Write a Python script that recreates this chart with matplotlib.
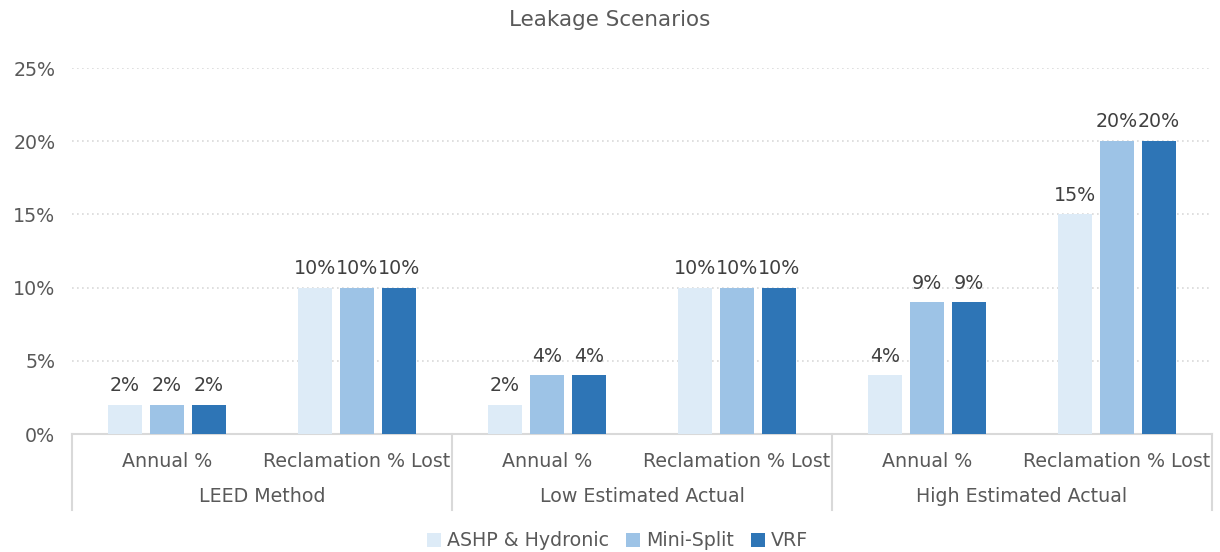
import matplotlib.pyplot as plt
import matplotlib.transforms as mtransforms
import numpy as np

# ---------- data ----------
groups = ["LEED Method", "Low Estimated Actual", "High Estimated Actual"]
metrics = ["Annual %", "Reclamation % Lost"]
series_names = ["ASHP & Hydronic", "Mini-Split", "VRF"]
ashp = [2, 10, 2, 10, 4, 15]
mini_split = [2, 10, 4, 10, 9, 20]
vrf = [2, 10, 4, 10, 9, 20]

# ---------- style ----------
colors = ["#ddebf7", "#9dc3e6", "#2e75b6"]
text_gray = "#595959"
label_gray = "#404040"
grid_gray = "#d9d9d9"
fs = 13.7
plt.rcParams["font.family"] = ["DejaVu Sans"]

fig = plt.figure(figsize=(12.2, 5.52), dpi=100)
ax = fig.add_axes([72 / 1220, 1 - 434 / 552, 1140 / 1220, 366 / 552])

n_cat = len(groups) * len(metrics)
x = np.arange(n_cat)
bar_w = 0.174
step = 0.221

for i, (name, vals) in enumerate(zip(series_names, [ashp, mini_split, vrf])):
    pos = x + (i - 1) * step
    bars = ax.bar(pos, np.array(vals) / 100, width=bar_w, color=colors[i], label=name, zorder=3)
    for b, v in zip(bars, vals):
        ax.annotate(f"{v}%", (b.get_x() + b.get_width() / 2, b.get_height()),
                    xytext=(0, 7), textcoords="offset points", ha="center", va="bottom",
                    fontsize=fs, color=label_gray)

ax.set_xlim(-0.5, n_cat - 0.5)
ax.set_ylim(0, 0.25)
ax.set_yticks(np.arange(0, 0.26, 0.05))
ax.set_yticklabels([f"{int(round(t * 100))}%" for t in np.arange(0, 0.26, 0.05)])
ax.tick_params(axis="y", length=0, pad=12, labelsize=fs, labelcolor=text_gray)
ax.grid(axis="y", linestyle=(0, (1, 2)), color=grid_gray, linewidth=1.2, zorder=0)

ax.set_xticks(x)
ax.set_xticklabels(metrics * len(groups))
ax.tick_params(axis="x", length=0, pad=13, labelsize=fs, labelcolor=text_gray)

for side in ["top", "right", "left"]:
    ax.spines[side].set_visible(False)
ax.spines["bottom"].set_color(grid_gray)
ax.spines["bottom"].set_linewidth(1.5)

# multi-level category axis
trans = mtransforms.blended_transform_factory(ax.transData, fig.transFigure)
for b in np.arange(-0.5, n_cat, len(metrics)):
    ax.plot([b, b], [1 - 434 / 552, 1 - 510 / 552], transform=trans, color=grid_gray,
            linewidth=1.5, clip_on=False)
for g, name in enumerate(groups):
    cx = g * len(metrics) + (len(metrics) - 1) / 2
    ax.text(cx, 1 - 497 / 552, name, transform=trans, ha="center", va="center",
            fontsize=fs, color=text_gray)

fig.suptitle("Leakage Scenarios", y=1 - 20 / 552, va="center", fontsize=15.5, color=text_gray)

fig.legend(loc="center", bbox_to_anchor=(0.506, 1 - 541 / 552), ncol=3, frameon=False,
           fontsize=fs, handlelength=0.75, handleheight=0.75, handletextpad=0.3,
           columnspacing=0.9, labelcolor=text_gray)

fig.savefig("out.png", dpi=100)
